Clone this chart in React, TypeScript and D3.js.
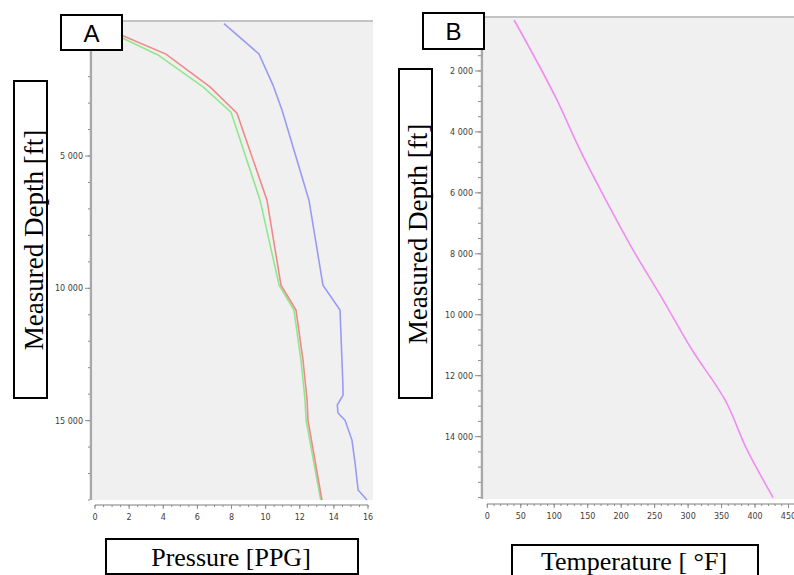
import React from "react";
import * as d3 from "d3";

// Panel A — pressure profiles (PPG vs measured depth, ft)
const redPPG = [1.6, 4.16, 6.74, 8.32, 10.08, 10.9, 11.78, 12.19, 12.43, 12.48, 13.3];
const redDepth = [450, 1150, 2390, 3380, 6670, 9880, 10820, 12710, 14220, 14980, 18000];
const greenPPG = [1.6, 3.69, 6.33, 7.97, 9.67, 10.79, 11.66, 12.07, 12.31, 12.37, 13.23];
const greenDepth = [540, 1180, 2390, 3340, 6660, 9880, 10820, 12710, 14220, 14980, 18000];
const bluePPG = [7.56, 9.61, 10.43, 10.96, 12.54, 13.36, 14.36, 14.52, 14.54, 14.2, 14.24, 14.65, 15.06, 15.24, 15.42, 15.94];
const blueDepth = [0, 1145, 2320, 3264, 6670, 9880, 10820, 13470, 14035, 14410, 14710, 14980, 15735, 16600, 17620, 18000];

// Panel B — temperature profile
const tempF = [40, 104, 138.5, 177, 217.7, 262.5, 305.8, 355, 388, 427];
const tempDepth = [328, 2951, 4590, 6230, 7870, 9509, 11149, 12788, 14428, 16000];

const ticksA_X = [0, 2, 4, 6, 8, 10, 12, 14, 16];
const ticksA_Y = [5000, 10000, 15000];
const ticksB_X = [0, 50, 100, 150, 200, 250, 300, 350, 400, 450];
const ticksB_Y = [2000, 4000, 6000, 8000, 10000, 12000, 14000];

const fmt = (v: number) => {
  const s = String(v);
  return s.length > 3 ? s.slice(0, s.length - 3) + " " + s.slice(-3) : s;
};

const tickFont = { fontFamily: "DejaVu Sans", fontSize: 8, fill: "#3f3b37" };
const serif = "Liberation Serif";

function zip(xs: number[], ys: number[]) {
  return xs.map((x, i) => [x, ys[i]] as [number, number]);
}

export default function App() {
  // Panel A scales
  const xA = d3.scaleLinear().domain([0, 16]).range([95, 368]);
  const yA = d3.scaleLinear().domain([0, 18000]).range([23.7, 500]);
  // Panel B scales
  const xB = d3.scaleLinear().domain([0, 450]).range([487.3, 788.5]);
  const yB = d3.scaleLinear().domain([0, 16000]).range([10, 497.6]);

  const lineA = d3.line<[number, number]>().x((d) => xA(d[0])).y((d) => yA(d[1]));
  const lineB = d3
    .line<[number, number]>()
    .x((d) => xB(d[0]))
    .y((d) => yB(d[1]))
    .curve(d3.curveMonotoneY);

  const minorAY = d3.range(1000, 18001, 1000);
  const minorAX = d3.range(0, 16.01, 0.5);
  const minorBY = d3.range(500, 16001, 500).filter((v) => yB(v) >= 17);
  const minorBX = d3.range(0, 451, 10);

  const axisGray = "#a8a8a8";
  const tickGray = "#8a8a8a";

  return (
    <svg width={794} height={575} style={{ position: "absolute", left: 0, top: 0, background: "#fff" }}>
      {/* ---------- Panel A ---------- */}
      <rect x={93} y={21} width={280} height={479} fill="#f0f0f0" />
      <line x1={93} x2={373} y1={21} y2={21} stroke="#c4c4c4" strokeWidth={2} />
      {/* y axis */}
      <line x1={91} x2={91} y1={21} y2={500} stroke={axisGray} strokeWidth={2.5} />
      {minorAY.map((v) => (
        <line key={"amy" + v} x1={88} x2={90} y1={yA(v)} y2={yA(v)} stroke={tickGray} strokeWidth={1} />
      ))}
      {ticksA_Y.map((v) => (
        <g key={"ay" + v}>
          <line x1={85} x2={90} y1={yA(v)} y2={yA(v)} stroke={tickGray} strokeWidth={1} />
          <text x={83} y={yA(v) + 3} textAnchor="end" {...tickFont}>{fmt(v)}</text>
        </g>
      ))}
      {/* x axis */}
      <line x1={95} x2={368} y1={505} y2={505} stroke={axisGray} strokeWidth={1.5} />
      {minorAX.map((v) => (
        <line key={"amx" + v} x1={xA(v)} x2={xA(v)} y1={505} y2={507} stroke={tickGray} strokeWidth={1} />
      ))}
      {ticksA_X.map((v) => (
        <g key={"ax" + v}>
          <line x1={xA(v)} x2={xA(v)} y1={505} y2={509} stroke={tickGray} strokeWidth={1} />
          <text x={xA(v)} y={520} textAnchor="middle" {...tickFont}>{v}</text>
        </g>
      ))}
      {/* series */}
      <path d={lineA(zip(greenPPG, greenDepth)) || ""} fill="none" stroke="#8ee88e" strokeWidth={1.6} />
      <path d={lineA(zip(redPPG, redDepth)) || ""} fill="none" stroke="#f08a8a" strokeWidth={1.6} />
      <path d={lineA(zip(bluePPG, blueDepth)) || ""} fill="none" stroke="#9a9af4" strokeWidth={1.6} />

      {/* label boxes A */}
      <rect x={61} y={15} width={61} height={35} fill="#fff" stroke="#000" strokeWidth={2} />
      <text x={91.5} y={42} textAnchor="middle" fontFamily="Liberation Sans" fontSize={24} fill="#000">A</text>
      <rect x={14} y={81} width={33} height={317} fill="#fff" stroke="#000" strokeWidth={2} />
      <text transform="translate(43,240) rotate(-90)" textAnchor="middle" fontFamily={serif} fontSize={27} fill="#000">Measured Depth [ft]</text>
      <rect x={106} y={539} width={252} height={35} fill="#fff" stroke="#000" strokeWidth={2} />
      <text x={231} y={566} textAnchor="middle" fontFamily={serif} fontSize={26} fill="#000">Pressure [PPG]</text>

      {/* ---------- Panel B ---------- */}
      <rect x={484} y={17} width={310} height={482} fill="#f0f0f0" />
      <line x1={484} x2={794} y1={17} y2={17} stroke="#c4c4c4" strokeWidth={2} />
      <line x1={482} x2={482} y1={17} y2={499} stroke={axisGray} strokeWidth={2.5} />
      {minorBY.map((v) => (
        <line key={"bmy" + v} x1={478} x2={481} y1={yB(v)} y2={yB(v)} stroke={tickGray} strokeWidth={1} />
      ))}
      {ticksB_Y.map((v) => (
        <g key={"by" + v}>
          <line x1={475} x2={481} y1={yB(v)} y2={yB(v)} stroke={tickGray} strokeWidth={1} />
          <text x={473} y={yB(v) + 3} textAnchor="end" {...tickFont}>{fmt(v)}</text>
        </g>
      ))}
      <line x1={487} x2={794} y1={504} y2={504} stroke={axisGray} strokeWidth={1.5} />
      {minorBX.map((v) => (
        <line key={"bmx" + v} x1={xB(v)} x2={xB(v)} y1={504} y2={506} stroke={tickGray} strokeWidth={1} />
      ))}
      {ticksB_X.map((v) => (
        <g key={"bx" + v}>
          <line x1={xB(v)} x2={xB(v)} y1={504} y2={508} stroke={tickGray} strokeWidth={1} />
          <text x={xB(v)} y={519} textAnchor="middle" {...tickFont}>{v}</text>
        </g>
      ))}
      <path d={lineB(zip(tempF, tempDepth)) || ""} fill="none" stroke="#f08cf0" strokeWidth={1.6} />

      {/* label boxes B */}
      <rect x={423} y={13} width={61} height={36} fill="#fff" stroke="#000" strokeWidth={2} />
      <text x={453.5} y={40} textAnchor="middle" fontFamily="Liberation Sans" fontSize={24} fill="#000">B</text>
      <rect x={399} y={69} width={33} height={329} fill="#fff" stroke="#000" strokeWidth={2} />
      <text transform="translate(427,234) rotate(-90)" textAnchor="middle" fontFamily={serif} fontSize={27} fill="#000">Measured Depth [ft]</text>
      <rect x={512} y={545} width={246} height={40} fill="#fff" stroke="#000" strokeWidth={2} />
      <text x={634} y={570} textAnchor="middle" fontFamily={serif} fontSize={26} fill="#000">Temperature [ °F]</text>
    </svg>
  );
}
